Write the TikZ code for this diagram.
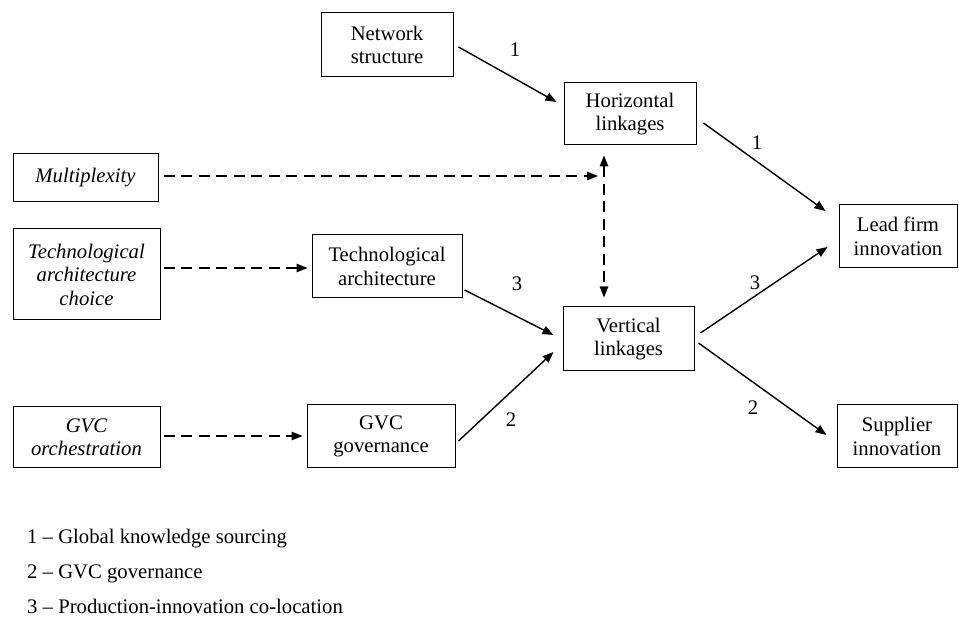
\documentclass[tikz,border=0pt]{standalone}
\usepackage{fontspec}
\setmainfont{Liberation Serif}
\usetikzlibrary{arrows.meta,calc}
\begin{document}
\begin{tikzpicture}[x=1pt,y=-1pt,
  box/.style={draw,line width=1pt,rectangle,align=center,inner sep=0pt,
    font=\fontsize{20.7}{23.5}\selectfont},
  ibox/.style={box,font=\fontsize{20.7}{23.5}\selectfont\itshape},
  arr/.style={line width=1.4pt,-{Triangle[length=11pt,width=8.5pt]}},
  darr/.style={arr,dash pattern=on 11pt off 6.5pt},
  lbl/.style={font=\fontsize{20.7}{24}\selectfont,inner sep=0pt},
  leg/.style={font=\fontsize{20.7}{24}\selectfont,inner sep=0pt,anchor=base west}]
\useasboundingbox (0,0) rectangle (959,617);

\node[box,minimum width=132pt,minimum height=64pt] (net) at (387,45) {Network\\structure};
\node[box,minimum width=132pt,minimum height=62pt] (hor) at (630,114) {Horizontal\\linkages};
\node[ibox,minimum width=145pt,minimum height=48pt] (mult) at (85.5,178) {Multiplexity};
\node[ibox,minimum width=147pt,minimum height=91pt] (tac) at (86.5,274.5) {Technological\\architecture\\choice};
\node[box,minimum width=150pt,minimum height=63pt] (ta) at (387,266.5) {Technological\\architecture};
\node[box,minimum width=131pt,minimum height=64pt] (ver) at (628.5,339) {Vertical\\linkages};
\node[box,minimum width=118pt,minimum height=63pt] (lead) at (898,236.5) {Lead firm\\innovation};
\node[box,minimum width=120pt,minimum height=63pt] (sup) at (897,436.5) {Supplier\\innovation};
\node[ibox,minimum width=147pt,minimum height=61pt] (gorch) at (86.5,437.5) {GVC\\orchestration};
\node[box,minimum width=148pt,minimum height=63pt] (ggov) at (381,436.5) {GVC\\governance};

\coordinate (mx) at (598,176);

% solid arrows
\draw[arr] ($(net.east)+(5,2)$) -- ($(hor.west)+(-7,-12)$);
\draw[arr] ($(ta.east)+(2,23.5)$) -- ($(ver.west)+(-9,-4)$);
\draw[arr] ($(ggov.east)+(3,4.5)$) -- ($(ver.west)+(-9,13)$);
\draw[arr] ($(hor.east)+(7,9)$) -- ($(lead.west)+(-13,-25.5)$);
\draw[arr] ($(ver.east)+(6,-6)$) -- ($(lead.west)+(-11,10.5)$);
\draw[arr] ($(ver.east)+(4,4)$) -- ($(sup.west)+(-10,-1.5)$);

% dashed arrows
\draw[darr] ($(mult.east)+(5,-2)$) -- (mx);
\draw[darr] ($(tac.east)+(3,-6.5)$) -- ($(ta.west)+(-4,1.5)$);
\draw[darr] ($(gorch.east)+(3,-1.5)$) -- ($(ggov.west)+(-4,-0.5)$);
\draw[line width=1.4pt,dash pattern=on 11pt off 6.5pt,
  {Triangle[length=11pt,width=8.5pt]}-{Triangle[length=11pt,width=8.5pt]}]
  ($(hor.south)+(-26,10)$) -- ($(ver.north)+(-24.5,-9)$);

% edge labels
\node[lbl] (l1) at (515,50) {1};
\node[lbl] (l2) at (517,284) {3};
\node[lbl] (l3) at (511,420) {2};
\node[lbl] (l4) at (757,143) {1};
\node[lbl] (l5) at (755,283) {3};
\node[lbl] (l6) at (753,408) {2};

% legend
\node[leg] (g1) at (27,543) {1 – Global knowledge sourcing};
\node[leg] (g2) at (27,578) {2 – GVC governance};
\node[leg] (g3) at (27,613) {3 – Production-innovation co-location};
\end{tikzpicture}
\end{document}
